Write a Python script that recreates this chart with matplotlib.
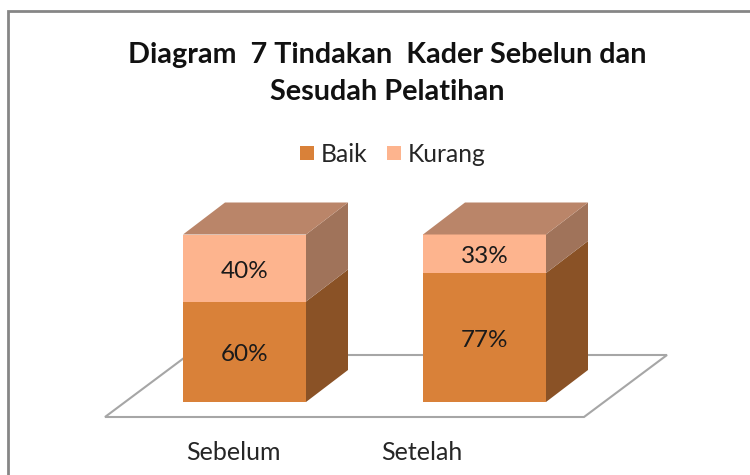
"""Stacked 3D-look column chart, drawn as flat polygons in pixel space."""
import matplotlib
matplotlib.use("Agg")
import matplotlib.pyplot as plt
from matplotlib.patches import Polygon, Rectangle

categories = ["Sebelum", "Setelah"]
baik = [60, 77]
kurang = [40, 23]  # drawn height; the second bar is labelled 33% in the source
baik_labels = ["60%", "77%"]
kurang_labels = ["40%", "33%"]
title_lines = ["Diagram  7 Tindakan  Kader Sebelun dan", "Sesudah Pelatihan"]

BAR_LEFT = [183, 423]
BAR_W = 123
BASE_Y = 402
PX_PER_PCT = 1.675
DX, DY = 42, -32

ORANGE = {"front": "#d98139", "side": "#8a5226"}
PEACH = {"front": "#fdb48e", "side": "#a0735a", "top": "#ba8569"}
INK = "#1a1a1a"

plt.rcParams["font.family"] = ["Lato", "DejaVu Sans"]
fig = plt.figure(figsize=(7.5, 4.75), dpi=100)
ax = fig.add_axes([0, 0, 1, 1])
ax.set_xlim(0, 750)
ax.set_ylim(475, 0)
ax.axis("off")

# chart frame, cropped at the right and bottom of the screenshot
ax.plot([8, 8, 750], [475, 11, 11], color="#868686", lw=2, solid_joinstyle="miter")

# floor
ax.add_patch(Polygon([(105, 417), (584, 417), (667, 355), (188, 355)], closed=True,
                     fc="white", ec="#a6a6a6", lw=1.5, zorder=1))


def block(x, y0, y1, colors):
    ax.add_patch(Rectangle((x, y1), BAR_W, y0 - y1, fc=colors["front"], ec="none", zorder=3))
    r = x + BAR_W
    ax.add_patch(Polygon([(r, y0), (r + DX, y0 + DY), (r + DX, y1 + DY), (r, y1)],
                         closed=True, fc=colors["side"], ec="none", zorder=3))


for i, cat in enumerate(categories):
    x = BAR_LEFT[i]
    split = BASE_Y - baik[i] * PX_PER_PCT
    top = split - kurang[i] * PX_PER_PCT
    block(x, BASE_Y, split, ORANGE)
    block(x, split, top, PEACH)
    ax.add_patch(Polygon([(x, top), (x + BAR_W, top), (x + BAR_W + DX, top + DY), (x + DX, top + DY)],
                         closed=True, fc=PEACH["top"], ec="none", zorder=3))
    cx = x + BAR_W / 2
    ax.text(cx, (BASE_Y + split) / 2 + 3, baik_labels[i], ha="center", va="center",
            fontsize=17.5, color=INK, zorder=4)
    ax.text(cx, (split + top) / 2 + 3, kurang_labels[i], ha="center", va="center",
            fontsize=17.5, color=INK, zorder=4)

ax.text(233, 452, categories[0], ha="center", va="center", fontsize=18, color="#262626")
ax.text(422, 452, categories[1], ha="center", va="center", fontsize=18, color="#262626")

ax.text(387, 55, title_lines[0], ha="center", va="center", fontsize=20.7,
        fontweight="bold", color="#111111")
ax.text(387, 92, title_lines[1], ha="center", va="center", fontsize=20.7,
        fontweight="bold", color="#111111")

# legend
ax.add_patch(Rectangle((300, 146), 14, 14, fc=ORANGE["front"], ec="none"))
ax.text(321, 155, "Baik", ha="left", va="center", fontsize=17.7, color="#262626")
ax.add_patch(Rectangle((387, 146), 14, 14, fc=PEACH["front"], ec="none"))
ax.text(408, 155, "Kurang", ha="left", va="center", fontsize=17.7, color="#262626")

fig.savefig("out.png", dpi=100)
